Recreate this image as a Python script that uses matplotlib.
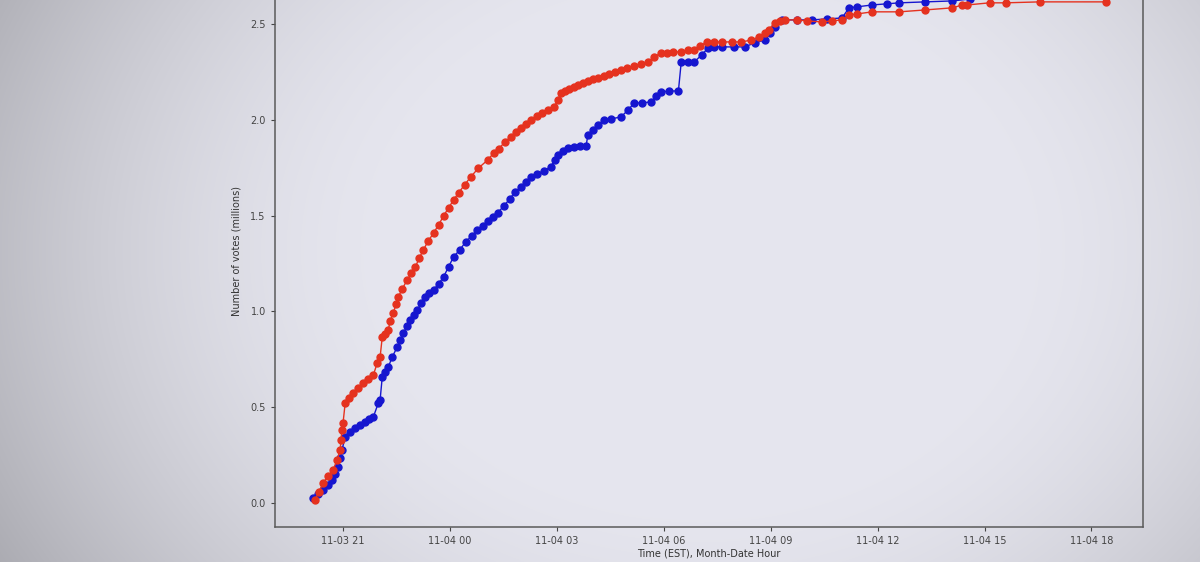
# -*- coding: utf-8 -*-
'''
cumulative vote count per candidate, election night
'''
import numpy as np
import pandas as pd
import matplotlib
matplotlib.use("Agg")
import matplotlib.pyplot as plt
import matplotlib.dates as mdates

# start of the hour grid (EST)
BASE_TIME = "2020-11-03 21:00"

# hours after BASE_TIME, cumulative votes (millions)
red_hours = [-0.79, -0.68, -0.56, -0.42, -0.28, -0.17, -0.08, -0.06, -0.03, 0.00,
             0.06, 0.17, 0.28, 0.42, 0.56, 0.70, 0.85, 0.96, 1.04, 1.10,
             1.18, 1.27, 1.32, 1.41, 1.49, 1.55, 1.66, 1.80, 1.92, 2.03,
             2.14, 2.25, 2.39, 2.54, 2.68, 2.82, 2.96, 3.10, 3.24, 3.41,
             3.58, 3.80, 4.06, 4.23, 4.37, 4.54, 4.70, 4.85, 4.99, 5.13,
             5.27, 5.44, 5.58, 5.75, 5.92, 6.03, 6.11, 6.23, 6.34, 6.48,
             6.59, 6.73, 6.87, 7.01, 7.15, 7.32, 7.46, 7.63, 7.80, 7.97,
             8.17, 8.37, 8.56, 8.73, 8.93, 9.10, 9.27, 9.49, 9.69, 9.86,
             10.03, 10.20, 10.42, 10.62, 10.90, 11.18, 11.46, 11.66, 11.83, 11.94,
             12.11, 12.25, 12.39, 12.73, 13.01, 13.44, 13.72, 14.00, 14.20, 14.42,
             14.85, 15.61, 16.34, 17.10, 17.38, 17.52, 18.14, 18.59, 19.55, 21.41]
red_votes = [0.016, 0.057, 0.104, 0.141, 0.172, 0.224, 0.277, 0.329, 0.381, 0.418,
             0.522, 0.548, 0.574, 0.600, 0.626, 0.647, 0.668, 0.731, 0.762, 0.866,
             0.882, 0.903, 0.950, 0.992, 1.039, 1.075, 1.117, 1.164, 1.200, 1.232,
             1.279, 1.320, 1.367, 1.409, 1.451, 1.498, 1.540, 1.581, 1.618, 1.660,
             1.701, 1.748, 1.790, 1.827, 1.848, 1.884, 1.910, 1.936, 1.957, 1.978,
             1.999, 2.020, 2.035, 2.051, 2.067, 2.103, 2.140, 2.150, 2.161, 2.171,
             2.182, 2.192, 2.203, 2.213, 2.218, 2.229, 2.239, 2.250, 2.260, 2.270,
             2.281, 2.291, 2.302, 2.328, 2.349, 2.349, 2.354, 2.354, 2.364, 2.364,
             2.385, 2.406, 2.406, 2.406, 2.406, 2.406, 2.416, 2.432, 2.453, 2.469,
             2.505, 2.516, 2.521, 2.521, 2.516, 2.510, 2.516, 2.521, 2.547, 2.552,
             2.563, 2.563, 2.573, 2.584, 2.599, 2.599, 2.610, 2.610, 2.615, 2.615]

blue_hours = [-0.85, -0.70, -0.56, -0.42, -0.31, -0.23, -0.14, -0.08, -0.03, 0.06,
              0.20, 0.34, 0.48, 0.62, 0.73, 0.85, 0.99, 1.04, 1.10, 1.18,
              1.27, 1.38, 1.52, 1.61, 1.69, 1.80, 1.89, 2.00, 2.08, 2.20,
              2.31, 2.42, 2.54, 2.68, 2.82, 2.96, 3.10, 3.27, 3.44, 3.61,
              3.77, 3.92, 4.06, 4.20, 4.34, 4.51, 4.68, 4.82, 4.99, 5.13,
              5.27, 5.44, 5.63, 5.83, 5.94, 6.03, 6.17, 6.31, 6.48, 6.65,
              6.82, 6.87, 7.01, 7.15, 7.32, 7.52, 7.80, 8.00, 8.17, 8.39,
              8.65, 8.79, 8.93, 9.15, 9.41, 9.49, 9.69, 9.86, 10.06, 10.25,
              10.42, 10.62, 10.96, 11.27, 11.55, 11.83, 11.97, 12.11, 12.31, 12.73,
              13.15, 13.58, 14.00, 14.20, 14.42, 14.85, 15.27, 15.61, 16.34, 17.10,
              17.60]
blue_votes = [0.026, 0.047, 0.068, 0.094, 0.120, 0.151, 0.188, 0.235, 0.277, 0.344,
              0.371, 0.391, 0.407, 0.423, 0.438, 0.449, 0.522, 0.538, 0.658, 0.684,
              0.710, 0.762, 0.814, 0.851, 0.887, 0.924, 0.955, 0.981, 1.007, 1.044,
              1.075, 1.096, 1.112, 1.143, 1.180, 1.232, 1.284, 1.320, 1.362, 1.394,
              1.425, 1.446, 1.472, 1.493, 1.514, 1.550, 1.587, 1.623, 1.649, 1.675,
              1.701, 1.717, 1.733, 1.754, 1.790, 1.816, 1.837, 1.853, 1.858, 1.863,
              1.863, 1.921, 1.947, 1.973, 1.999, 2.004, 2.015, 2.051, 2.088, 2.088,
              2.093, 2.124, 2.145, 2.150, 2.150, 2.302, 2.302, 2.302, 2.338, 2.375,
              2.380, 2.380, 2.380, 2.380, 2.401, 2.416, 2.453, 2.484, 2.521, 2.521,
              2.521, 2.526, 2.531, 2.584, 2.589, 2.599, 2.605, 2.610, 2.615, 2.620,
              2.630]

y_ticks = [0.0, 0.5, 1.0, 1.5, 2.0, 2.5]

RED = '#e5321f'
BLUE = '#1616cf'

base = pd.Timestamp(BASE_TIME)
red_t = base + pd.to_timedelta(red_hours, unit='h')
blue_t = base + pd.to_timedelta(blue_hours, unit='h')

fig = plt.figure(figsize=(12, 5.62), dpi=100)

# screen-photo look: greyish vignette behind everything
bg = fig.add_axes([0, 0, 1, 1], zorder=0)
yy, xx = np.mgrid[0:562, 0:1200]
r = np.sqrt(((xx - 700) / 700.0) ** 2 + ((yy - 250) / 560.0) ** 2)
shade = np.clip(1.0 - 0.45 * np.clip(r - 0.45, 0, None) ** 1.6, 0.7, 1)
img = np.dstack([0.9 * shade, 0.9 * shade, 0.935 * shade])
bg.imshow(img, aspect='auto', extent=[0, 1, 0, 1], interpolation='bilinear')
bg.axis('off')

ax = fig.add_axes([0.229, 0.0623, 0.7236, 0.9804], zorder=1)
ax.set_facecolor('none')

ax.plot(blue_t, blue_votes, '-o', color=BLUE, markersize=5, linewidth=1.0)
ax.plot(red_t, red_votes, '-o', color=RED, markersize=5, linewidth=1.0)

ax.set_xlim(base + pd.Timedelta(hours=-1.915), base + pd.Timedelta(hours=22.45))
ax.set_ylim(-0.125, 2.75)
ax.set_yticks(y_ticks)
ax.set_yticklabels([f"{v:.1f}" for v in y_ticks])
ax.xaxis.set_major_locator(mdates.HourLocator(byhour=[0, 3, 6, 9, 12, 15, 18, 21]))
ax.xaxis.set_major_formatter(mdates.DateFormatter('%m-%d %H'))

ax.tick_params(labelsize=7, colors='#444444', length=3, width=0.8)
for s in ax.spines.values():
    s.set_color('#5a5a5a')
    s.set_linewidth(1.1)

ax.set_xlabel("Time (EST), Month-Date Hour", fontsize=7, color='#333333', labelpad=2)
ax.set_ylabel("Number of votes (millions)", fontsize=7, color='#333333', labelpad=6)

fig.savefig('out.png', dpi=100)
